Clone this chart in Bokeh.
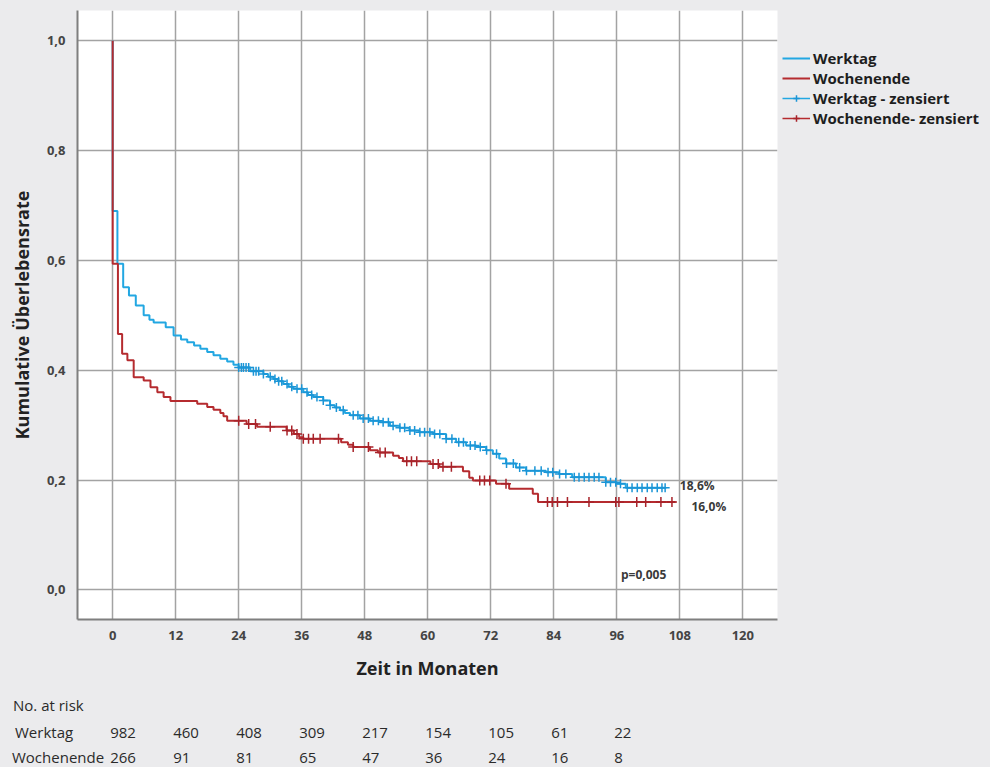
import numpy as np
from bokeh.plotting import figure
from bokeh.models import (Range1d, FixedTicker, CustomJSTickFormatter, Legend,
                          LegendItem, Div)
from bokeh.layouts import column
from bokeh.core.properties import value
from bokeh.embed import file_html
from bokeh.resources import INLINE

# ---------------- data ----------------
werktag_t = [0, 0.9, 2.0, 3.1, 4.4, 5.9, 7.0, 7.8, 10.1, 11.6, 13.0, 14.2, 15.5, 16.7,
             18.0, 19.2, 20.5, 21.8, 23.0, 24.0, 26.2, 28.7, 29.6, 30.6, 31.5, 32.5,
             33.5, 34.4, 36.3, 37.2, 38.2, 40.1, 41.4, 42.3, 43.3, 44.2, 45.2, 47.1,
             49.0, 50.9, 52.8, 54.6, 56.5, 58.4, 61.0, 63.5, 65.4, 67.3, 69.2, 71.1,
             72.4, 73.6, 74.9, 76.8, 78.7, 82.5, 85.0, 87.5, 93.9, 96.0, 97.7, 105.3]
werktag_s = [0.690, 0.594, 0.551, 0.536, 0.518, 0.500, 0.492, 0.487, 0.478, 0.463, 0.456,
             0.451, 0.445, 0.439, 0.433, 0.427, 0.421, 0.416, 0.410, 0.405, 0.398, 0.393,
             0.388, 0.384, 0.380, 0.375, 0.370, 0.366, 0.360, 0.355, 0.351, 0.345, 0.336,
             0.332, 0.327, 0.322, 0.318, 0.312, 0.308, 0.305, 0.299, 0.295, 0.290, 0.287,
             0.284, 0.275, 0.269, 0.263, 0.260, 0.254, 0.248, 0.239, 0.230, 0.223, 0.217,
             0.214, 0.211, 0.205, 0.196, 0.193, 0.186, 0.186]

wochenende_t = [0, 1.0, 1.8, 2.8, 4.0, 5.9, 7.2, 8.5, 9.7, 11.0, 16.1, 18.0, 19.2, 20.5,
                21.1, 21.8, 25.5, 27.5, 33.1, 34.5, 35.5, 36.3, 43.5, 44.8, 45.8, 49.0,
                50.5, 53.4, 54.5, 55.3, 60.5, 62.2, 66.7, 67.9, 68.6, 73.0, 75.5, 80.0,
                81.0, 107.2]
wochenende_s = [0.594, 0.466, 0.430, 0.418, 0.387, 0.381, 0.369, 0.360, 0.351, 0.344,
                0.339, 0.333, 0.328, 0.322, 0.316, 0.308, 0.302, 0.297, 0.290, 0.284,
                0.278, 0.275, 0.269, 0.264, 0.260, 0.254, 0.250, 0.244, 0.240, 0.234,
                0.229, 0.224, 0.216, 0.204, 0.199, 0.193, 0.184, 0.175, 0.160, 0.160]

werktag_cens = [24.0, 24.5, 24.9, 25.4, 25.9, 26.8, 27.3, 27.8, 28.7, 30.0, 30.9, 31.6,
                32.2, 33.2, 34.1, 35.1, 36.0, 37.0, 37.9, 38.9, 40.1, 41.4, 42.6, 43.9,
                45.8, 46.7, 47.7, 48.7, 49.6, 50.6, 51.5, 52.5, 53.4, 54.7, 55.6, 56.6,
                57.5, 58.5, 59.4, 60.4, 61.3, 62.3, 63.5, 64.6, 65.9, 66.8, 68.1, 69.0,
                70.0, 71.2, 73.1, 75.0, 76.3, 77.5, 78.8, 80.4, 81.6, 82.9, 83.8, 85.1,
                86.3, 87.9, 88.8, 89.8, 90.7, 91.7, 92.6, 93.9, 94.8, 95.8, 96.7, 98.0,
                98.9, 99.9, 100.8, 101.8, 102.7, 103.7, 104.6, 105.2]
wochenende_cens = [24.0, 25.9, 27.2, 30.0, 33.2, 34.1, 35.1, 36.3, 37.3, 38.2, 39.5, 43.0,
                   45.8, 48.7, 50.9, 51.9, 56.0, 56.9, 57.9, 61.0, 62.0, 62.9, 64.5, 69.9,
                   70.8, 71.8, 74.9, 82.8, 83.7, 84.7, 86.6, 90.7, 95.8, 96.4, 99.8, 101.5,
                   104.4, 106.5]

x_ticks = [0, 12, 24, 36, 48, 60, 72, 84, 96, 108, 120]
y_ticks = [0.0, 0.2, 0.4, 0.6, 0.8, 1.0]

risk_months = [0, 12, 24, 36, 48, 60, 72, 84, 96]
risk_werktag = [982, 460, 408, 309, 217, 154, 105, 61, 22]
risk_wochenende = [266, 91, 81, 65, 47, 36, 24, 16, 8]

# ---------------- styles ----------------
BG = "#ebebed"
BLUE = "#22a7e2"
BLUE_M = "#1b95d6"
RED = "#b52b2f"
RED_M = "#a8232a"
GRID = "#a3a3a3"
FONT = "Open Sans"

X0, X1 = -6.7, 126.6
Y0, Y1 = -0.054, 1.055
FW, FH = 700, 609
LB, RB, TB, BB = 77, 213, 10, 71
TABLE_H = 77


def step_value(times, surv, t):
    idx = np.searchsorted(np.array(times), t, side="right") - 1
    return [surv[i] for i in idx]


p = figure(frame_width=FW, frame_height=FH, x_range=Range1d(X0, X1),
           y_range=Range1d(Y0, Y1), output_backend="svg", toolbar_location=None,
           min_border_left=LB, min_border_right=RB, min_border_top=TB,
           min_border_bottom=BB, background_fill_color="white",
           border_fill_color=BG, outline_line_color=None)

# grid
p.xgrid.ticker = FixedTicker(ticks=x_ticks)
p.ygrid.ticker = FixedTicker(ticks=y_ticks)
p.grid.grid_line_color = GRID
p.grid.grid_line_width = 1.5

# axes
p.xaxis.ticker = FixedTicker(ticks=x_ticks)
p.yaxis.ticker = FixedTicker(ticks=y_ticks)
p.yaxis.formatter = CustomJSTickFormatter(code="return tick.toFixed(1).replace('.', ',');")
for ax in (p.xaxis[0], p.yaxis[0]):
    ax.axis_line_color = "#7f7f7f"
    ax.axis_line_width = 2
    ax.major_tick_line_color = None
    ax.minor_tick_line_color = None
    ax.major_label_text_font = FONT
    ax.major_label_text_font_size = "13px"
    ax.major_label_text_font_style = "bold"
    ax.major_label_text_color = "#444444"
    ax.axis_label_text_font = FONT
    ax.axis_label_text_font_size = "18px"
    ax.axis_label_text_font_style = "bold"
    ax.axis_label_text_color = "#222222"
p.xaxis.axis_label = "Zeit in Monaten"
p.yaxis.axis_label = "Kumulative Überlebensrate"
p.xaxis.major_label_standoff = 5
p.xaxis.axis_label_standoff = 13
p.yaxis.major_label_standoff = 6
p.yaxis.axis_label_standoff = 10

# curves
r_blue = p.step([0] + werktag_t, [1.0] + werktag_s, mode="after",
                line_color=BLUE, line_width=2)
r_red = p.step([0] + wochenende_t, [1.0] + wochenende_s, mode="after",
               line_color=RED, line_width=2)

c_blue = p.scatter(werktag_cens, step_value(werktag_t, werktag_s, werktag_cens),
                   marker="cross", size=9, line_color=BLUE_M, line_width=1.5)
c_red = p.scatter(wochenende_cens, step_value(wochenende_t, wochenende_s, wochenende_cens),
                  marker="cross", size=10, line_color=RED_M, line_width=1.5)

lb = p.line([np.nan], [np.nan], line_color=BLUE, line_width=1.5)
lr = p.line([np.nan], [np.nan], line_color=RED, line_width=1.5)

# annotations inside the plot
ann = dict(text_font=value(FONT), text_font_size="12px", text_font_style="bold",
           text_color="#3a3a3a", text_align="left", text_baseline="middle")
p.text(x=[108.0], y=[0.190], text=["18,6%"], **ann)
p.text(x=[110.2], y=[0.152], text=["16,0%"], **ann)
p.text(x=[96.8], y=[0.028], text=["p=0,005"], **ann)

legend = Legend(items=[
    LegendItem(label="Werktag", renderers=[r_blue]),
    LegendItem(label="Wochenende", renderers=[r_red]),
    LegendItem(label="Werktag - zensiert", renderers=[lb, c_blue]),
    LegendItem(label="Wochenende- zensiert", renderers=[lr, c_red]),
], location=(5, 491), margin=0, padding=0, spacing=0, glyph_width=28,
    glyph_height=16, label_height=16, label_standoff=3,
    label_text_font=FONT, label_text_font_size="15px", label_text_font_style="bold",
    label_text_color="#1e1e1e", background_fill_alpha=0, border_line_color=None)
p.add_layout(legend, "right")

# ---------------- risk table (HTML below the figure) ----------------
scale = FW / (X1 - X0)   # pixels per month, same mapping as the figure's x scale


def xpix(month):
    return LB + (month - X0) * scale


def span(text, left, center_y):
    return (f'<div style="position:absolute;left:{left:.1f}px;top:{center_y - 11}px;'
            f'line-height:22px;white-space:nowrap;">{text}</div>')


rows = [span("No. at risk", 13, 15), span("Werktag", 15, 42), span("Wochenende", 12, 67)]
for m, a, b in zip(risk_months, risk_werktag, risk_wochenende):
    rows.append(span(str(a), xpix(m) - 2, 42))
    rows.append(span(str(b), xpix(m) - 2, 67))

html = (f'<div style="position:relative;width:990px;height:{TABLE_H}px;'
        f'background:{BG};font-family:\'{FONT}\';font-size:15px;color:#2a2a2a;">'
        + "".join(rows) + "</div>")
table = Div(text=html, width=990, height=TABLE_H, margin=0,
            styles={"background-color": BG})

layout = column(p, table, spacing=0, styles={"background-color": BG})
open("out.html", "w").write(file_html(layout, INLINE))
